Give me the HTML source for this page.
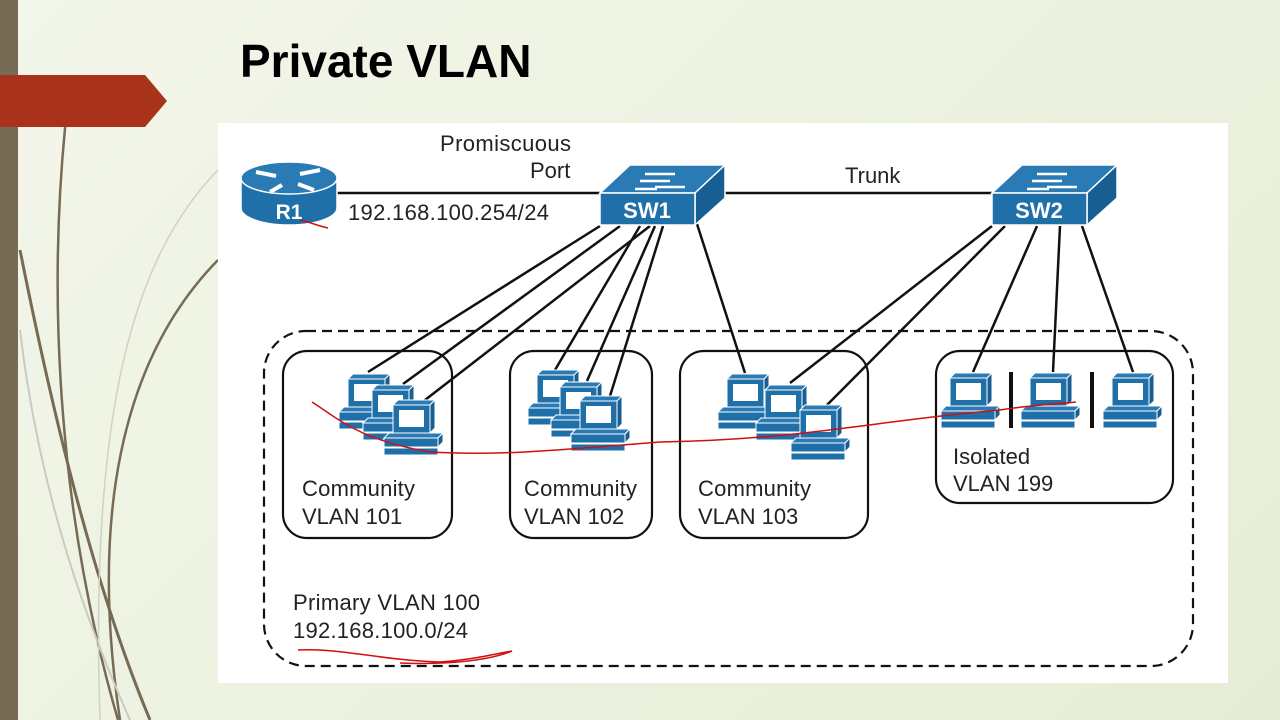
<!DOCTYPE html>
<html><head><meta charset="utf-8"><style>
html,body{margin:0;padding:0}
body{width:1280px;height:720px;overflow:hidden;background:linear-gradient(135deg,#f3f6ea,#e6edd6);position:relative;font-family:"Liberation Sans",sans-serif}
</style></head><body>
<svg width="1280" height="720" style="position:absolute;left:0;top:0" xmlns="http://www.w3.org/2000/svg">
<defs>
<g id="pc" stroke="#fff" stroke-width="1">
<polygon points="0,5 5,0 42,0 37,5" fill="#2a7ab5"/>
<polygon points="37,5 42,0 42,28 37,33" fill="#175e93"/>
<rect x="0" y="5" width="37" height="28" fill="#1f6fa8"/>
<rect x="6" y="10" width="25" height="17" fill="#fff" stroke="none"/>
<polygon points="-9,38 -4,33 50,33 45,38" fill="#2a7ab5"/>
<polygon points="45,38 50,33 50,42 45,47" fill="#175e93"/>
<rect x="-9" y="38" width="54" height="9" fill="#1f6fa8"/>
<rect x="-9" y="48" width="54" height="7" fill="#1f6fa8"/>
</g>
<g id="sw" stroke="#fff" stroke-width="1.5">
<polygon points="0,28 30,0 125,0 95,28" fill="#2a7ab5"/>
<polygon points="95,28 125,0 125,33 95,60" fill="#175e93"/>
<rect x="0" y="28" width="95" height="32" fill="#1f6fa8"/>
<path d="M45,9 h30 M40,16 h30 M55,22 h30 M35,24 h22" stroke="#fff" stroke-width="2.5" fill="none"/>
</g>
</defs>
<rect x="0" y="0" width="18" height="720" fill="#776b55"/>
<path d="M68,100 C45,300 60,520 118,720" stroke="#776b55" stroke-width="2.5" fill="none"/>
<path d="M20,250 C60,450 100,600 150,720" stroke="#776b55" stroke-width="3" fill="none"/>
<path d="M218,260 C120,360 90,520 120,720" stroke="#776b55" stroke-width="2.5" fill="none"/>
<path d="M218,170 C130,260 90,420 100,720" stroke="#cfd2c0" stroke-width="1.5" fill="none"/>
<path d="M20,330 C40,500 90,630 130,720" stroke="#c9cbbf" stroke-width="2" fill="none"/>
<polygon points="0,75 145,75 167,101 145,127 0,127" fill="#a8321a"/>
<text x="240" y="77" font-family="Liberation Sans" font-weight="bold" font-size="46" fill="#000">Private VLAN</text>
<rect x="218" y="123" width="1010" height="560" fill="#fff"/>
<g stroke="#111" stroke-width="2.5" fill="none">
<line x1="337" y1="193" x2="600" y2="193"/>
<line x1="720" y1="193" x2="992" y2="193"/>
<line x1="600" y1="226" x2="368" y2="372"/>
<line x1="620" y1="226" x2="403" y2="384"/>
<line x1="650" y1="226" x2="425" y2="400"/>
<line x1="640" y1="226" x2="555" y2="370"/>
<line x1="655" y1="226" x2="587" y2="381"/>
<line x1="663" y1="226" x2="610" y2="396"/>
<line x1="697" y1="224" x2="745" y2="373"/>
<line x1="992" y1="226" x2="790" y2="383"/>
<line x1="1005" y1="226" x2="827" y2="405"/>
<line x1="1037" y1="226" x2="973" y2="372"/>
<line x1="1060" y1="226" x2="1053" y2="372"/>
<line x1="1082" y1="226" x2="1133" y2="372"/>
</g>
<rect x="264" y="331" width="929" height="335" rx="42" fill="none" stroke="#111" stroke-width="2.2" stroke-dasharray="10,6"/>
<g fill="none" stroke="#111" stroke-width="2.2">
<rect x="283" y="351" width="169" height="187" rx="24"/>
<rect x="510" y="351" width="142" height="187" rx="24"/>
<rect x="680" y="351" width="188" height="187" rx="24"/>
<rect x="936" y="351" width="237" height="152" rx="24"/>
</g>
<rect x="1009" y="372" width="4" height="56" fill="#111"/>
<rect x="1090" y="372" width="4" height="56" fill="#111"/>
<g stroke="#fff" stroke-width="1.5">
<path d="M241,178 v30 a48,17 0 0 0 96,0 v-30 z" fill="#1f6fa8"/>
<ellipse cx="289" cy="178" rx="48" ry="16" fill="#2a7ab5"/>
<path d="M256,172 l20,4 M300,174 l20,-4 M282,185 l-12,7 M298,184 l16,6" stroke="#fff" stroke-width="4"/>
</g>
<text x="289" y="219" text-anchor="middle" font-weight="bold" font-size="21" fill="#fff">R1</text>
<use href="#sw" x="600" y="165"/>
<use href="#sw" x="992" y="165"/>
<text x="647" y="218" text-anchor="middle" font-weight="bold" font-size="22" fill="#fff">SW1</text>
<text x="1039" y="218" text-anchor="middle" font-weight="bold" font-size="22" fill="#fff">SW2</text>
<use href="#pc" x="348" y="374"/><use href="#pc" x="372" y="385"/><use href="#pc" x="393" y="400"/>
<use href="#pc" x="537" y="370"/><use href="#pc" x="560" y="382"/><use href="#pc" x="580" y="396"/>
<use href="#pc" x="727" y="374"/><use href="#pc" x="765" y="385"/><use href="#pc" x="800" y="405"/>
<use href="#pc" x="950" y="373"/><use href="#pc" x="1030" y="373"/><use href="#pc" x="1112" y="373"/>
<g font-size="22" fill="#222">
<text x="440" y="151" textLength="131">Promiscuous</text>
<text x="530" y="178">Port</text>
<text x="348" y="220" textLength="201">192.168.100.254/24</text>
<text x="845" y="183">Trunk</text>
<text x="302" y="496" textLength="113">Community</text><text x="302" y="524">VLAN 101</text>
<text x="524" y="496" textLength="113">Community</text><text x="524" y="524">VLAN 102</text>
<text x="698" y="496" textLength="113">Community</text><text x="698" y="524">VLAN 103</text>
<text x="953" y="464">Isolated</text><text x="953" y="491">VLAN 199</text>
<text x="293" y="610" textLength="187">Primary VLAN 100</text><text x="293" y="638" textLength="175">192.168.100.0/24</text>
</g>
<g stroke="#d01010" stroke-width="1.5" fill="none">
<path d="M312,402 C340,420 360,440 430,452 C500,456 560,450 660,442 C800,440 880,420 1000,410 C1040,404 1060,404 1076,402"/>
<path d="M300,220 C310,222 318,226 328,228"/>
<path d="M298,650 C340,648 380,660 440,662 C470,660 490,655 512,651 C490,660 450,665 400,663"/>
</g>
</svg>
</body></html>
